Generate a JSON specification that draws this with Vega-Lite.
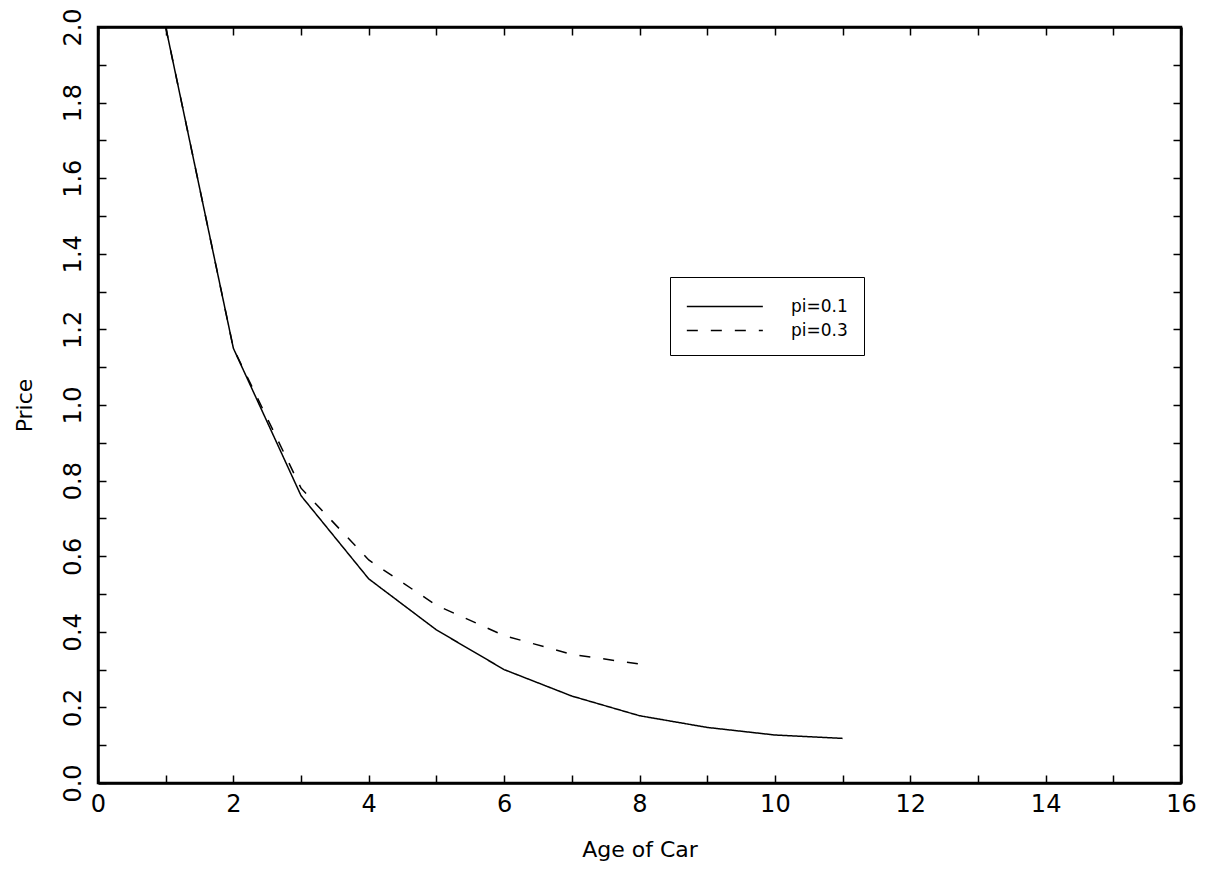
{
  "$schema": "https://vega.github.io/schema/vega-lite/v6.json",
  "width": 1083,
  "height": 756,
  "autosize": "none",
  "padding": {"left": 98, "top": 27, "right": 31, "bottom": 96},
  "background": "white",
  "config": {
    "font": "DejaVu Sans",
    "view": {"stroke": "black", "strokeWidth": 2.5},
    "axis": {
      "grid": false,
      "domainColor": "black",
      "domainWidth": 2.5,
      "tickColor": "black",
      "tickWidth": 1.5,
      "tickSize": -8,
      "labelColor": "black",
      "labelFontSize": 24,
      "labelFont": "DejaVu Sans",
      "labelFontWeight": "normal",
      "labelFlush": false,
      "labelOverlap": false,
      "titleColor": "black",
      "titleFontSize": 22,
      "titleFontWeight": "normal",
      "titleFont": "DejaVu Sans"
    }
  },
  "data": {
    "values": [
      {"series": "pi=0.1", "age": 1, "price": 2.0},
      {"series": "pi=0.1", "age": 2, "price": 1.15},
      {"series": "pi=0.1", "age": 3, "price": 0.76},
      {"series": "pi=0.1", "age": 4, "price": 0.54},
      {"series": "pi=0.1", "age": 5, "price": 0.405},
      {"series": "pi=0.1", "age": 6, "price": 0.3},
      {"series": "pi=0.1", "age": 7, "price": 0.23},
      {"series": "pi=0.1", "age": 8, "price": 0.178},
      {"series": "pi=0.1", "age": 9, "price": 0.147},
      {"series": "pi=0.1", "age": 10, "price": 0.127},
      {"series": "pi=0.1", "age": 11, "price": 0.118},
      {"series": "pi=0.3", "age": 1, "price": 2.0},
      {"series": "pi=0.3", "age": 2, "price": 1.15},
      {"series": "pi=0.3", "age": 3, "price": 0.78},
      {"series": "pi=0.3", "age": 4, "price": 0.59},
      {"series": "pi=0.3", "age": 5, "price": 0.47},
      {"series": "pi=0.3", "age": 6, "price": 0.39},
      {"series": "pi=0.3", "age": 7, "price": 0.34},
      {"series": "pi=0.3", "age": 8, "price": 0.315}
    ]
  },
  "layer": [
    {
      "mark": {"type": "line", "color": "black", "strokeWidth": 1.5, "clip": true},
      "encoding": {
        "x": {
          "field": "age", "type": "quantitative",
          "scale": {"domain": [0, 16], "nice": false, "zero": false},
          "axis": {
            "orient": "bottom",
            "values": [0,1,2,3,4,5,6,7,8,9,10,11,12,13,14,15,16],
            "labelExpr": "datum.value % 2 === 0 ? datum.label : ''",
            "labelPadding": 17,
            "title": "Age of Car",
            "titlePadding": 23
          }
        },
        "y": {
          "field": "price", "type": "quantitative",
          "scale": {"domain": [0, 2], "nice": false},
          "axis": {
            "orient": "left",
            "values": [0,0.1,0.2,0.3,0.4,0.5,0.6,0.7,0.8,0.9,1.0,1.1,1.2,1.3,1.4,1.5,1.6,1.7,1.8,1.9,2.0],
            "labelExpr": "round(datum.value*10) % 2 === 0 ? format(datum.value, '.1f') : ''",
            "labelAngle": -90,
            "labelAlign": "center",
            "labelBaseline": "bottom",
            "labelPadding": 21,
            "title": "Price",
            "titlePadding": 25
          }
        },
        "strokeDash": {
          "field": "series", "type": "nominal",
          "scale": {"domain": ["pi=0.1", "pi=0.3"], "range": [[1, 0], [11, 13]]},
          "legend": {
            "orient": "none",
            "legendX": 572,
            "legendY": 250,
            "title": null,
            "strokeColor": "black",
            "fillColor": "white",
            "padding": 16,
            "symbolType": "M-1,0H5",
            "symbolSize": 642,
            "symbolStrokeWidth": 1.5,
            "symbolStrokeColor": "black",
            "labelFontSize": 17,
            "labelFont": "DejaVu Sans",
            "labelColor": "black",
            "labelOffset": 78,
            "labelExpr": "datum.label + '\u00a0\u00a0\u00a0\u00a0\u00a0'",
            "rowPadding": 2
          }
        }
      }
    },
    {
      "mark": {"type": "line", "opacity": 0},
      "encoding": {
        "x": {
          "field": "age", "type": "quantitative",
          "axis": {
            "orient": "top",
            "values": [0,1,2,3,4,5,6,7,8,9,10,11,12,13,14,15,16],
            "labels": false,
            "title": null
          }
        },
        "y": {
          "field": "price", "type": "quantitative",
          "axis": {
            "orient": "right",
            "values": [0,0.1,0.2,0.3,0.4,0.5,0.6,0.7,0.8,0.9,1.0,1.1,1.2,1.3,1.4,1.5,1.6,1.7,1.8,1.9,2.0],
            "labels": false,
            "title": null
          }
        },
        "detail": {"field": "series", "type": "nominal"}
      }
    }
  ],
  "resolve": {"axis": {"x": "independent", "y": "independent"}}
}
